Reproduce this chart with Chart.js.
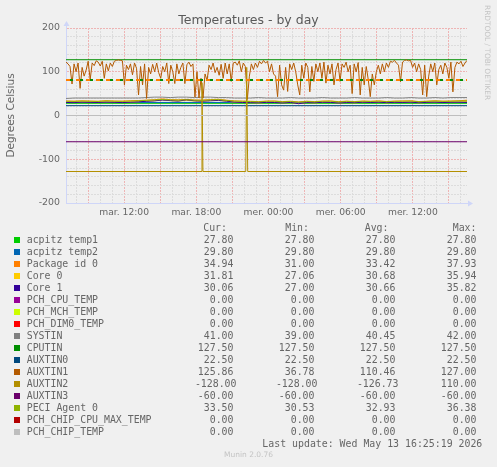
<!DOCTYPE html>
<html><head><meta charset="utf-8">
<script src="https://cdn.jsdelivr.net/npm/chart.js@4/dist/chart.umd.min.js"></script>
<style>
html,body{margin:0;padding:0;background:#F0F0F0;width:497px;height:467px;overflow:hidden;}
#wrap{position:relative;width:497px;height:467px;}
#cv{position:absolute;left:0;top:0;}
.t{position:absolute;white-space:pre;line-height:12px;height:12px;}
.mono{font-family:'DejaVu Sans Mono',monospace;font-size:9.9px;color:#666;}
.sq{position:absolute;width:6px;height:6px;}
</style></head><body><div id="wrap"><canvas id="cv" width="497" height="225"></canvas></div>
<script>
// ---- time axis (hours since Tuesday 00:00) ----
const startHour = 7 + 10/60;   // mar. 07:10
const endHour = 40 + 30/60;    // mer. 16:30
const xTickHours = [12, 18, 24, 30, 36];
const xTickLabels = ['mar. 12:00', 'mar. 18:00', 'mer. 00:00', 'mer. 06:00', 'mer. 12:00'];
const yTickValues = [-200, -100, 0, 100, 200];
const yTickLabels = ['-200', '-100', '0', '100', '200'];

const chartTitle = 'Temperatures - by day';
const yAxisTitle = 'Degrees Celsius';
const lastUpdate = 'Last update: Wed May 13 16:25:19 2026';
const footer = 'Munin 2.0.76';
const sideText = 'RRDTOOL / TOBI OETIKER';

// ---- legend ----
const seriesNames = ['acpitz temp1','acpitz temp2','Package id 0','Core 0','Core 1','PCH_CPU_TEMP','PCH_MCH_TEMP','PCH_DIM0_TEMP','SYSTIN','CPUTIN','AUXTIN0','AUXTIN1','AUXTIN2','AUXTIN3','PECI Agent 0','PCH_CHIP_CPU_MAX_TEMP','PCH_CHIP_TEMP'];
const seriesColors = ['#00CC00','#0066B3','#FF8000','#FFCC00','#330099','#990099','#CCFF00','#FF0000','#808080','#008F00','#00487D','#B35A00','#B38F00','#6B006B','#8FB300','#B30000','#BEBEBE'];
const curValues = ['27.80','29.80','34.94','31.81','30.06','0.00','0.00','0.00','41.00','127.50','22.50','125.86','-128.00','-60.00','33.50','0.00','0.00'];
const minValues = ['27.80','29.80','31.00','27.06','27.00','0.00','0.00','0.00','39.00','127.50','22.50','36.78','-128.00','-60.00','30.53','0.00','0.00'];
const avgValues = ['27.80','29.80','33.42','30.68','30.66','0.00','0.00','0.00','40.45','127.50','22.50','110.46','-126.73','-60.00','32.93','0.00','0.00'];
const maxValues = ['27.80','29.80','37.93','35.94','35.82','0.00','0.00','0.00','42.00','127.50','22.50','127.00','110.00','-60.00','36.38','0.00','0.00'];
const columnHeaders = ['Cur:','Min:','Avg:','Max:'];

// ---- series values ----
const acpitzTemp1 = [27.8, 27.8];
const acpitzTemp2 = [29.8, 29.8];
const packageId0 = [33.2,32.8,33.5,33.0,32.6,33.8,33.1,32.9,33.6,34.2, 35.1,36.0,37.93,36.2,35.8,36.9,35.5,35.2,36.4,37.1, 35.0,33.4,32.8,32.5,31.8,32.9,33.1,31.9,32.6,31.0, 32.7,31.8,32.9,33.2,31.7,32.8,31.9,33.0,32.6,33.3, 32.1,32.9,33.2,33.5,31.9,32.7,33.6,32.8,33.1,33.7,34.94];
const core0 = [30.1,29.6,30.8,30.2,29.4,31.0,30.3,29.8,30.6,31.4, 32.8,33.6,35.94,33.9,33.1,34.6,33.2,32.5,34.0,34.9, 32.6,30.4,29.7,29.5,28.6,29.9,30.1,28.8,29.6,27.06, 29.8,28.7,30.0,30.2,28.6,29.7,28.9,30.1,29.6,30.5, 29.0,29.9,30.3,30.6,28.9,29.8,30.7,29.9,30.2,30.8,31.81];
const core1 = [29.8,29.4,30.5,30.0,29.7,30.6,30.1,29.5,30.3,31.2, 32.5,33.4,35.2,34.1,33.0,35.82,33.6,32.8,33.7,34.5, 32.9,30.6,29.8,29.3,28.9,30.0,29.7,28.6,29.8,27.0, 29.5,29.0,30.2,29.9,28.5,29.6,29.2,30.3,29.7,30.4, 29.3,30.1,29.8,30.5,29.1,30.0,30.6,29.6,30.2,30.4,30.06];
const pchCpuTemp = [0, 0];
const pchMchTemp = [0, 0];
const pchDim0Temp = [0, 0];
const systin = [39,40,40,40,40,40,40,40,40,40, 41,42,42,41,42,42,41,42,42,41, 41,40,40,40,41,40,40,40,41,40, 40,40,41,40,40,40,41,40,40,40, 41,40,40,41,40,40,41,40,41,41,41];
const cputin = [127.5, 127.5];
const auxtin0 = [22.5, 22.5];
const auxtin1 = [122,118,112,72,118,100,120,62,110,90,
  104,124,82,120,114,125,122,113,124,85,
  118,102,120,112,124,126,127,126,125,70,
  115,105,118,93,120,108,47,112,70,118,
  39,110,95,117,100,120,98,85,112,100,
  120,73,115,100,73,118,95,110,120,73,
  116,122,112,118,42,100,40,85,40,95,
  80,115,105,120,98,110,92,117,85,120,
  95,118,78,120,122,115,125,100,120,112,
  36.78,90,118,105,120,110,124,118,126,120,
  124,100,118,95,90,43,115,70,58,110,
  55,118,105,120,100,70,47,115,85,120,
  110,54,112,78,118,100,120,85,122,74,
  115,95,118,70,105,120,78,118,110,122,
  100,115,50,118,100,121,47,110,70,112,
  82,43,95,70,100,115,95,118,100,120,
  110,124,122,126,120,115,77,122,126,127,
  125,126,110,120,100,118,105,47,115,43,
  90,118,100,120,70,105,115,95,120,110,
  85,122,54,110,122,118,124,112,120,125.86];
const auxtin2Hours = [startHour, 18.39, 18.47, 18.55, 22.11, 22.19, 22.27, endHour];
const auxtin2 = [-128, -128, 75, -128, -128, 110, -128, -128];
const auxtin3 = [-60, -60];
const peciAgent0 = [32.6,32.2,33.0,32.5,32.1,33.3,32.6,32.3,33.0,33.7, 34.6,35.4,36.38,35.5,35.1,36.0,34.9,34.6,35.6,36.2, 34.5,32.9,32.3,32.0,31.3,32.4,32.6,31.4,32.1,30.53, 32.2,31.3,32.4,32.7,31.2,32.3,31.4,32.5,32.1,32.8, 31.6,32.4,32.7,33.0,31.4,32.2,33.1,32.3,32.6,33.2,33.5];
const pchChipCpuMaxTemp = [0, 0];
const pchChipTemp = [0, 0];
const warningLevel = [81, 81];

// ---- sample times ----
const spanHours = [startHour, endHour];
const gridHours = n => Array.from({length: n}, (_, i) => startHour + i * (endHour - startHour) / (n - 1));
const coarseHours = gridHours(packageId0.length);
const fineHours = gridHours(auxtin1.length);

const seriesData = [
  [spanHours, acpitzTemp1], [spanHours, acpitzTemp2], [coarseHours, packageId0], [coarseHours, core0],
  [coarseHours, core1], [spanHours, pchCpuTemp], [spanHours, pchMchTemp], [spanHours, pchDim0Temp],
  [coarseHours, systin], [spanHours, cputin], [spanHours, auxtin0], [fineHours, auxtin1],
  [auxtin2Hours, auxtin2], [spanHours, auxtin3], [coarseHours, peciAgent0], [spanHours, pchChipCpuMaxTemp],
  [spanHours, pchChipTemp]
];
const toXY = (hrs, vals) => vals.map((v, i) => ({x: hrs[i], y: v}));

const N = seriesData.length + 2;
const datasets = seriesData.map(([h, v], i) => ({
  label: seriesNames[i], data: toXY(h, v), borderColor: seriesColors[i],
  borderWidth: 1, pointRadius: 0, order: N - i
}));
datasets.push({label: 'warn1', data: toXY(spanHours, warningLevel), borderColor: '#FF8000', borderWidth: 2, borderDash: [4, 6], pointRadius: 0, order: 1});
datasets.push({label: 'warn2', data: toXY(spanHours, warningLevel), borderColor: '#008F00', borderWidth: 2, borderDash: [3, 7], borderDashOffset: -4, pointRadius: 0, order: 0});

const arrows = {
  id: 'arrows',
  afterDraw(chart) {
    const {ctx} = chart; const {left, right, top, bottom} = chart.chartArea;
    ctx.save();
    ctx.strokeStyle = '#CFD6F8'; ctx.fillStyle = '#CFD6F8'; ctx.lineWidth = 1;
    const lx = Math.round(left) + 0.5, by = Math.round(bottom) + 0.5;
    ctx.beginPath(); ctx.moveTo(lx, top); ctx.lineTo(lx, top - 3); ctx.stroke();
    ctx.beginPath(); ctx.moveTo(lx - 3, top - 2); ctx.lineTo(lx + 3, top - 2); ctx.lineTo(lx, top - 7); ctx.closePath(); ctx.fill();
    ctx.beginPath(); ctx.moveTo(right, by); ctx.lineTo(right + 2, by); ctx.stroke();
    ctx.beginPath(); ctx.moveTo(right + 1, by - 3); ctx.lineTo(right + 1, by + 3); ctx.lineTo(right + 6, by); ctx.closePath(); ctx.fill();
    ctx.restore();
  }
};

const minorGrid = '#dcdcdc';
const majorGrid = '#eeb4b4';

new Chart(document.getElementById('cv'), {
  type: 'line',
  data: {datasets},
  plugins: [arrows],
  options: {
    responsive: false, animation: false, events: [],
    layout: {padding: {top: 28, right: 30, left: 0, bottom: 0}},
    plugins: {legend: {display: false}, tooltip: {enabled: false}, title: {display: false}},
    elements: {line: {tension: 0}},
    scales: {
      x: {
        type: 'linear', min: startHour, max: endHour,
        afterFit(s) { s.height = 22; },
        afterBuildTicks(s) { const t = []; for (let h = Math.ceil(startHour); h <= endHour; h++) t.push({value: h}); s.ticks = t; },
        ticks: {autoSkip: false, maxRotation: 0, minRotation: 0, padding: 4, color: '#666',
          font: {family: 'DejaVu Sans', size: 9.2},
          callback(v) { const k = xTickHours.indexOf(v); return k < 0 ? '' : xTickLabels[k]; }},
        grid: {drawTicks: false, lineWidth: 1, color: c => (c.tick && c.tick.value % 3 === 0) ? majorGrid : minorGrid},
        border: {color: '#CFD6F8', width: 1, dash: [2, 1]}
      },
      y: {
        min: -200, max: 200,
        afterFit(s) { s.width = 66; },
        ticks: {stepSize: 20, autoSkip: false, padding: 6, color: '#666', font: {family: 'DejaVu Sans', size: 9.4},
          callback(v) { const k = yTickValues.indexOf(v); return k < 0 ? '' : yTickLabels[k]; }},
        grid: {drawTicks: false, lineWidth: 1, color: c => (c.tick && c.tick.value % 100 === 0) ? majorGrid : minorGrid},
        border: {color: '#CFD6F8', width: 1, dash: [2, 1]},
        title: {display: true, text: yAxisTitle, color: '#666', font: {family: 'DejaVu Sans', size: 10.5}, padding: {top: 5, bottom: 0}}
      }
    }
  }
});

// ---- text elements ----
const wrap = document.getElementById('wrap');
function addText(txt, css, cls) {
  const d = document.createElement('div');
  d.className = 't ' + (cls || '');
  d.textContent = txt;
  Object.assign(d.style, css);
  wrap.appendChild(d);
  return d;
}
addText(chartTitle, {left: '0px', width: '497px', textAlign: 'center', top: '12px', height: '15px', lineHeight: '15px',
  fontFamily: 'DejaVu Sans', fontSize: '12.5px', color: '#595959'});
addText(sideText, {left: '483px', top: '5px', writingMode: 'vertical-rl', height: 'auto', lineHeight: '9px', width: '9px',
  fontFamily: 'DejaVu Sans', fontSize: '7.4px', color: '#c4c4c4'});

const headerRight = [227, 309, 388.5, 476.5];
const valueRight = [233.5, 314.5, 395.5, 476.5];
columnHeaders.forEach((h, j) => addText(h, {right: (497 - headerRight[j]) + 'px', top: (228 - 6) + 'px'}, 'mono'));
const cols = [curValues, minValues, avgValues, maxValues];
seriesNames.forEach((name, i) => {
  const cy = 240 + 12 * i;
  const sq = document.createElement('div');
  sq.className = 'sq';
  Object.assign(sq.style, {left: '14px', top: (cy - 3) + 'px', background: seriesColors[i]});
  wrap.appendChild(sq);
  addText(name, {left: '26.7px', top: (cy - 6) + 'px'}, 'mono');
  cols.forEach((col, j) => {
    const s = col[i];
    const r = valueRight[j] + (s.length > 6 ? 3 : 0);
    addText(s, {right: (497 - r) + 'px', top: (cy - 6) + 'px'}, 'mono');
  });
});
addText(lastUpdate, {right: (497 - 482.3) + 'px', top: (444 - 6) + 'px'}, 'mono');
addText(footer, {left: '0px', width: '497px', textAlign: 'center', top: (455 - 6) + 'px', fontFamily: 'DejaVu Sans', fontSize: '7.5px', color: '#c4c4c4'});
</script></body></html>
